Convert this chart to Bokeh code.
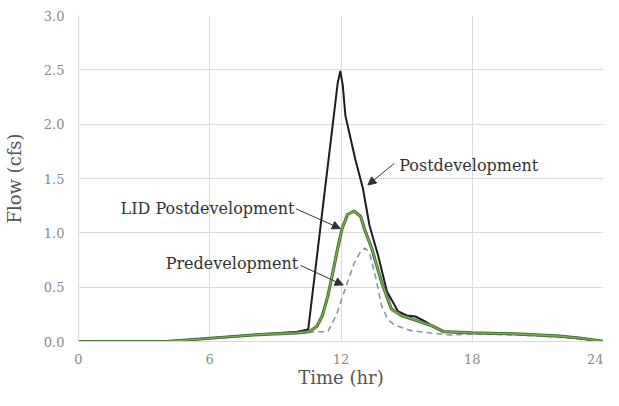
from bokeh.plotting import figure
from bokeh.models import Arrow, NormalHead, Label, FixedTicker, PrintfTickFormatter, Range1d
from bokeh.embed import file_html
from bokeh.resources import INLINE

# Postdevelopment (black)
post_t = [0, 4, 6, 8, 10, 10.5, 11.85, 11.97, 12.08, 12.2, 12.65, 13.0, 13.3, 13.7, 14.1, 14.6, 15.0, 15.4, 15.8, 16.2, 16.7, 18, 20, 22, 23, 24]
post_q = [0, 0, 0.03, 0.06, 0.09, 0.11, 2.38, 2.49, 2.36, 2.08, 1.68, 1.41, 1.07, 0.79, 0.46, 0.28, 0.24, 0.23, 0.19, 0.14, 0.09, 0.08, 0.07, 0.05, 0.03, 0.0]

# LID Postdevelopment (green)
lid_t = [0, 4, 6, 8, 10, 10.55, 10.9, 11.15, 11.4, 11.6, 11.85, 12.05, 12.3, 12.6, 12.9, 13.1, 13.4, 13.85, 14.3, 14.75, 15.2, 15.65, 16.2, 16.7, 18, 20, 22, 23, 24]
lid_q = [0, 0, 0.03, 0.06, 0.08, 0.09, 0.14, 0.24, 0.42, 0.61, 0.86, 1.04, 1.17, 1.20, 1.15, 1.02, 0.86, 0.55, 0.30, 0.24, 0.21, 0.18, 0.14, 0.09, 0.08, 0.07, 0.05, 0.03, 0.0]

# Predevelopment (dashed)
pre_t = [0, 4, 6, 8, 10, 11.0, 11.4, 11.8, 12.2, 12.6, 12.9, 13.1, 13.3, 13.6, 13.85, 14.15, 14.45, 15.2, 16, 17, 18, 20, 22, 24]
pre_q = [0, 0, 0.03, 0.06, 0.08, 0.09, 0.09, 0.25, 0.49, 0.72, 0.83, 0.86, 0.82, 0.58, 0.33, 0.20, 0.15, 0.10, 0.08, 0.06, 0.07, 0.06, 0.04, 0.0]

x_ticks = [0, 6, 12, 18, 24]
y_ticks = [0.0, 0.5, 1.0, 1.5, 2.0, 2.5, 3.0]

# annotations: (text, text_x, text_y, align, arrow from (x,y) to (x,y))
labels = [
    ("Postdevelopment", 14.66, 1.62, "left", 14.44, 1.64, 13.23, 1.44),
    ("LID Postdevelopment", 9.87, 1.22, "right", 9.95, 1.22, 11.97, 1.04),
    ("Predevelopment", 10.04, 0.72, "right", 10.15, 0.70, 12.1, 0.52),
]

FONT = "DejaVu Serif"

p = figure(width=603, height=390, output_backend="svg", toolbar_location=None,
           x_range=Range1d(0, 24), y_range=Range1d(0, 3.0),
           min_border_left=70, min_border_right=0, min_border_top=15, min_border_bottom=40)
p.outline_line_color = None
p.background_fill_color = "white"

p.xaxis.ticker = FixedTicker(ticks=x_ticks)
p.yaxis.ticker = FixedTicker(ticks=y_ticks)
p.yaxis.formatter = PrintfTickFormatter(format="%.1f")
p.xgrid.ticker = FixedTicker(ticks=x_ticks)
p.ygrid.ticker = FixedTicker(ticks=y_ticks)
p.xgrid.grid_line_color = "#dcdcdc"
p.ygrid.grid_line_color = "#dcdcdc"

for ax in (p.xaxis, p.yaxis):
    ax.axis_line_color = "#d9d9d9"
    ax.major_tick_line_color = None
    ax.minor_tick_line_color = None
    ax.major_tick_out = 0
    ax.major_tick_in = 0
    ax.major_label_text_font = FONT
    ax.major_label_text_font_size = "13px"
    ax.major_label_text_color = "#8a8a8a"
    ax.axis_label_text_font = FONT
    ax.axis_label_text_font_size = "18px"
    ax.axis_label_text_font_style = "normal"
    ax.axis_label_text_color = "#555555"

p.xaxis.axis_label = "Time (hr)"
p.yaxis.axis_label = "Flow (cfs)"
p.xaxis.major_label_standoff = 12
p.yaxis.major_label_standoff = 14
p.xaxis.axis_label_standoff = 0
p.yaxis.axis_label_standoff = 16

p.line(pre_t, pre_q, line_color="#8d97a8", line_width=1.6, line_dash="6 4")
p.line(post_t, post_q, line_color="#1c1c24", line_width=2)
p.line(lid_t, lid_q, line_color="#4a7434", line_width=3.2)
p.line(lid_t, lid_q, line_color="#7fae5e", line_width=1.2)

for txt, tx, ty, al, x0, y0, x1, y1 in labels:
    p.add_layout(Label(x=tx, y=ty, text=txt, text_font=FONT, text_font_size="16px",
                       text_color="#333333", text_align=al, text_baseline="middle"))
    p.add_layout(Arrow(end=NormalHead(size=8, fill_color="#333333", line_color="#333333"),
                       x_start=x0, y_start=y0, x_end=x1, y_end=y1,
                       line_color="#333333", line_width=1))

open("out.html", "w").write(file_html(p, INLINE))
